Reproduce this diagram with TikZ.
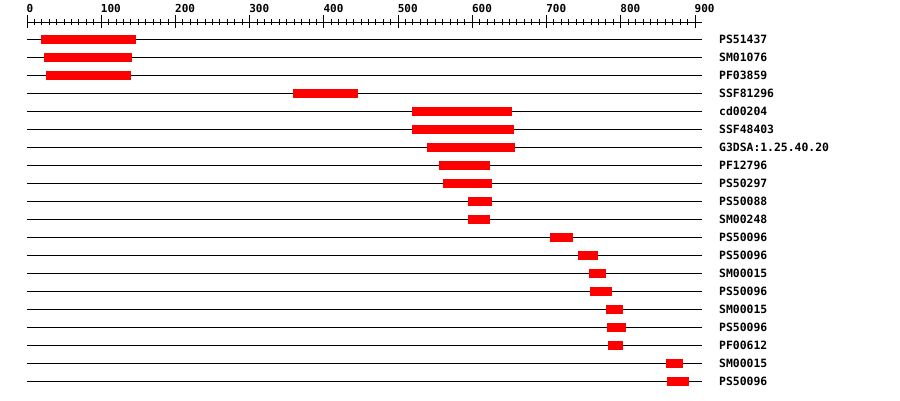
\documentclass[tikz,border=0pt]{standalone}
\usepackage{fontspec}
\newfontfamily\monob{DejaVu Sans Mono}[BoldFont={DejaVu Sans Mono Bold}]
\begin{document}
\begin{tikzpicture}[x=1pt,y=-1pt,
  rowline/.style={draw=black,line width=1pt},
  domainbar/.style={fill={rgb,255:red,255;green,0;blue,0}},
  axisline/.style={draw=black,line width=1pt},
  rowlabel/.style={anchor=base west,inner sep=0pt,font=\monob\bfseries\fontsize{11.4}{12}\selectfont},
  ticklabel/.style={anchor=base west,inner sep=0pt,font=\monob\bfseries\fontsize{11}{12}\selectfont}]
\useasboundingbox (0,0) rectangle (900,400);
\fill[white] (0,0) rectangle (900,400);
% axis
\draw[axisline] (27,22) -- (702,22);
\foreach \i in {0,...,90}{
  \pgfmathsetmacro{\xx}{27+\i*7.42222}
  \pgfmathtruncatemacro{\m}{mod(\i,10)}
  \ifnum\m=0
    \draw[axisline] (\xx,15) -- (\xx,28);
  \else
    \draw[axisline] (\xx,19) -- (\xx,25);
  \fi
}
\foreach \v [count=\k from 0] in {0,100,200,300,400,500,600,700,800,900}{
  \pgfmathsetmacro{\xx}{26.5+\k*74.2222}
  \node[ticklabel] (tick\k) at (\xx,12) {\v};
}
% rows
\foreach \a/\b/\lab [count=\k] in {
  41/136/PS51437,
  44/132/SM01076,
  46/131/PF03859,
  293/358/SSF81296,
  412/512/cd00204,
  412/514/SSF48403,
  427/515/G3DSA:1.25.40.20,
  439/490/PF12796,
  443/492/PS50297,
  468/492/PS50088,
  468/490/SM00248,
  550/573/PS50096,
  578/598/PS50096,
  589/606/SM00015,
  590/612/PS50096,
  606/623/SM00015,
  607/626/PS50096,
  608/623/PF00612,
  666/683/SM00015,
  667/689/PS50096}{
  \pgfmathsetmacro{\yy}{21+18*\k}
  \draw[rowline] (27,\yy) -- (702,\yy);
  \fill[domainbar] (\a,\yy-4.5) rectangle (\b,\yy+4.5);
  \node[rowlabel] (lab\k) at (719,\yy+4.2) {\lab};
}
\end{tikzpicture}
\end{document}
